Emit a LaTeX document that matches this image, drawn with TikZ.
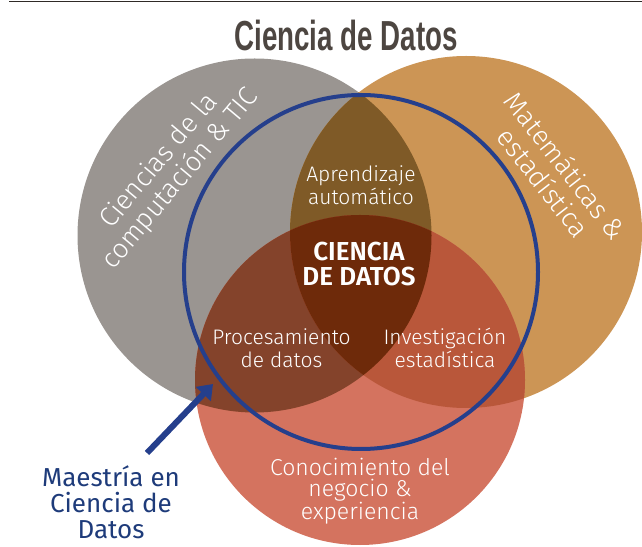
\documentclass[tikz,border=0pt]{standalone}
\usepackage{fontspec}
\setmainfont{Fira Sans Light}[BoldFont={Fira Sans SemiBold}]
\newfontfamily\azulfont{Fira Sans}
\newfontfamily\titlefont[FakeStretch=0.66]{Liberation Sans}
\usetikzlibrary{arrows.meta}

\definecolor{rulecol}{HTML}{2F2A26}
\definecolor{titlecol}{HTML}{4D4641}
\definecolor{grisc}{HTML}{9A9591}
\definecolor{naranjac}{HTML}{CC9555}
\definecolor{rojoc}{HTML}{D4735F}
\definecolor{grisnaranja}{HTML}{7F5A27}
\definecolor{grisrojo}{HTML}{84432B}
\definecolor{naranjarojo}{HTML}{B9573A}
\definecolor{centroc}{HTML}{6E2A0A}
\definecolor{azulc}{HTML}{253F8C}
\definecolor{azultxt}{HTML}{1E3B7A}

\newcommand\circgris{(254.5,310.5) circle (177)}
\newcommand\circnaranja{(466,314) circle (176)}
\newcommand\circrojo{(360,166) circle (165)}

\begin{document}
\begin{tikzpicture}[x=1pt,y=1pt,
        lbl/.style={text=white,align=center,inner sep=0pt,font=\fontsize{21}{23}\selectfont},
        big/.style={lbl,font=\fontsize{27}{28}\selectfont}]
        \useasboundingbox (0,0) rectangle (642,546);

        % the rule on top
        \draw[line width=1pt,rulecol] (9,544) -- (642,544);
        \node[text=titlecol,font=\titlefont\bfseries\fontsize{42}{46}\selectfont] (titulo) at (346,511) {Ciencia de Datos};

        % the three circles
        \fill[grisc] \circgris;
        \fill[naranjac] \circnaranja;
        \fill[rojoc] \circrojo;

        % the overlaps
        \begin{scope}
            \clip \circgris;
            \fill[grisnaranja] \circnaranja;
            \fill[grisrojo] \circrojo;
            \clip \circnaranja;
            \fill[centroc] \circrojo;
        \end{scope}
        \begin{scope}
            \clip \circnaranja;
            \clip \circrojo;
            \fill[naranjarojo] (0,0) rectangle (642,546);
            \clip \circgris;
            \fill[centroc] (0,0) rectangle (642,546);
        \end{scope}

        % the masters circle
        \draw[azulc,line width=4pt] (361,274) circle (177);

        % labels
        \node[big,rotate=50] (compu) at (170,376) {Ciencias de la\\computación \& TIC};
        \node[big,rotate=-52] (mate) at (555,372) {Matemáticas \&\\estadística};
        \node[lbl] (aprend) at (361,360.5) {Aprendizaje\\automático};
        \node[lbl,font=\bfseries\fontsize{26}{25}\selectfont] (centro) at (359,282) {CIENCIA\\DE DATOS};
        \node[lbl] (proces) at (281.5,198) {Procesamiento\\de datos};
        \node[lbl] (invest) at (445,198) {Investigación\\estadística};
        \node[lbl,font=\fontsize{23}{21}\selectfont] (negocio) at (360,55) {Conocimiento del\\negocio \&\\experiencia};
        \node[text=azultxt,align=center,inner sep=0pt,font=\azulfont\fontsize{26}{26}\selectfont] (maestria) at (111,44) {Maestría en\\Ciencia de\\Datos};

        % the arrow
        \coordinate (cola) at (147,93);
        \coordinate (punta) at (213,162);
        \draw[azulc,line width=6pt,-{Triangle[length=14pt,width=20pt]}] (cola) -- (punta);
    \end{tikzpicture}
\end{document}
